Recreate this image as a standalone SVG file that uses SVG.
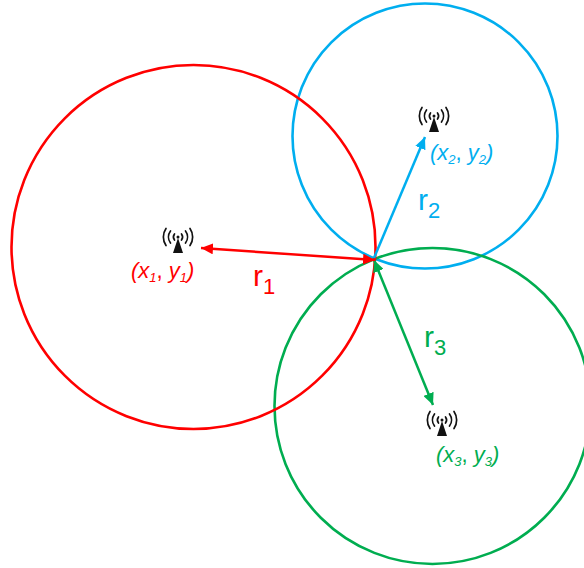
<svg xmlns="http://www.w3.org/2000/svg" width="584" height="568" viewBox="0 0 584 568">
<style>
text{font-family:"Liberation Sans",Arial,sans-serif}
.c{fill:none;stroke-width:2.600}
.lab{font-size:22px;font-style:italic}
.up{font-style:normal}
.sub{font-size:13px}
.r{font-size:30px}
.rs{font-size:22px}
.red{fill:#f00}.blue{fill:#00aeef}.green{fill:#00ad50}
.arc{fill:none;stroke:#111;stroke-width:1.700;stroke-linecap:round}
</style>
<defs>
<marker id="mr" markerUnits="userSpaceOnUse" markerWidth="12" markerHeight="11" refX="12" refY="5.500" orient="auto-start-reverse"><path d="M0 0L12 5.500L0 11z" fill="#f00"/></marker>
<marker id="mb" markerUnits="userSpaceOnUse" markerWidth="12" markerHeight="11" refX="12" refY="5.500" orient="auto-start-reverse"><path d="M0 0L12 5.500L0 11z" fill="#00aeef"/></marker>
<marker id="mg" markerUnits="userSpaceOnUse" markerWidth="12" markerHeight="11" refX="12" refY="5.500" orient="auto-start-reverse"><path d="M0 0L12 5.500L0 11z" fill="#00ad50"/></marker>
<g id="ant">
<path d="M0 1L5 16H-5z" fill="#111"/>
<circle cx="0" cy="0" r="1.500" fill="#111"/>
<path class="arc" d="M-3.500 -3a5 5 0 0 0 0 6M3.500 -3a5 5 0 0 1 0 6M-7.500 -6a10 10 0 0 0 0 12M7.500 -6a10 10 0 0 1 0 12M-12 -8.500a15 15 0 0 0 0 17M12 -8.500a15 15 0 0 1 0 17"/>
</g>
</defs>
<g id="circles">
<circle id="circle-blue" class="c" cx="425" cy="136" r="132.500" stroke="#00aeef"/>
<circle id="circle-green" class="c" cx="432.500" cy="406" r="158" stroke="#00ad50"/>
<circle id="circle-red" class="c" cx="193.500" cy="247" r="182" stroke="#f00"/>
</g>
<g id="connectors" fill="none" stroke-width="2.500">
<path d="M374 258L425 137" stroke="#00aeef" marker-end="url(#mb)"/>
<path d="M374 260L433 405" stroke="#00ad50" marker-start="url(#mg)" marker-end="url(#mg)"/>
<path d="M201 248L375 260" stroke="#f00" marker-start="url(#mr)" marker-end="url(#mr)"/>
</g>
<g id="node-1"><use href="#ant" x="178" y="237"/>
<text class="lab red" x="131" y="278">(x<tspan class="sub" dy="4">1</tspan><tspan dy="-4" class="up">,</tspan> y<tspan class="sub" dy="4">1</tspan><tspan dy="-4">)</tspan></text></g>
<g id="node-2"><use href="#ant" x="434" y="116"/>
<text class="lab blue" x="430" y="160">(x<tspan class="sub" dy="4">2</tspan><tspan dy="-4" class="up">,</tspan> y<tspan class="sub" dy="4">2</tspan><tspan dy="-4">)</tspan></text></g>
<g id="node-3"><use href="#ant" x="442" y="420"/>
<text class="lab green" x="436" y="462">(x<tspan class="sub" dy="4">3</tspan><tspan dy="-4" class="up">,</tspan> y<tspan class="sub" dy="4">3</tspan><tspan dy="-4">)</tspan></text></g>
<text class="r red" x="253" y="286">r<tspan class="rs" dy="8">1</tspan></text>
<text class="r blue" x="418" y="210">r<tspan class="rs" dy="8">2</tspan></text>
<text class="r green" x="424" y="347">r<tspan class="rs" dy="8">3</tspan></text>
</svg>
